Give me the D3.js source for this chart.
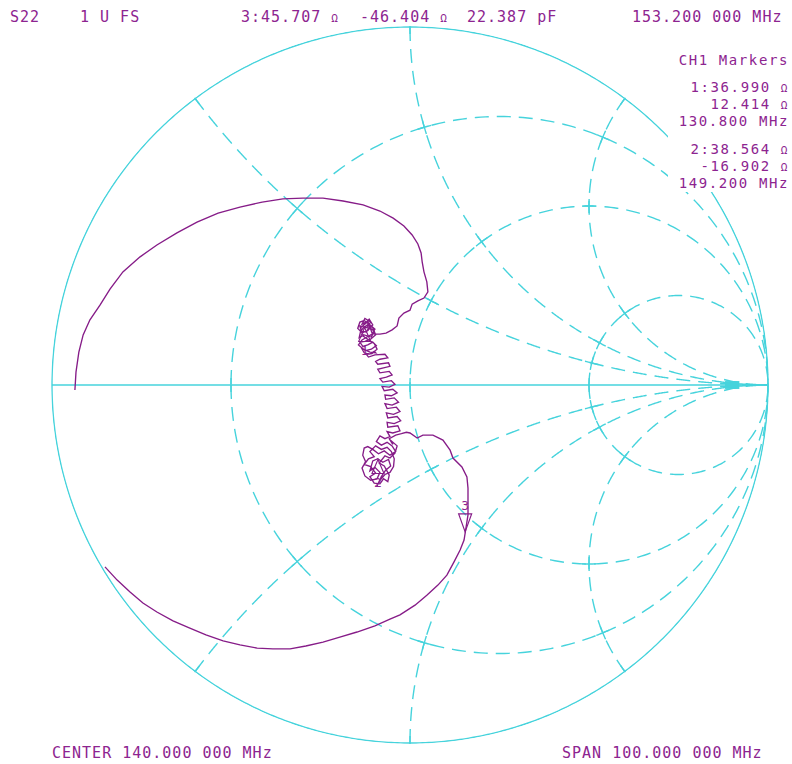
<!DOCTYPE html>
<html>
<head>
<meta charset="utf-8">
<script src="https://cdn.jsdelivr.net/npm/d3@7"></script>
<style>
  html, body { margin: 0; padding: 0; background: #ffffff; }
  svg { display: block; }
  text {
    font-family: "DejaVu Sans Mono", "Liberation Mono", monospace;
    font-size: 15px;
    fill: #8d2490;
    letter-spacing: 1px;
  }
  text.panel { font-size: 14px; letter-spacing: 1.6px; }
</style>
</head>
<body>
<svg id="chart" width="792" height="764"></svg>
<script>
// ---- Graticule (normalised impedance, Z0 = 50 Ω) ----
const resistanceCircles = [1 / 3, 1, 3];
const reactanceArcs = [0.5, 1, 2, -0.5, -1, -2];
const z0 = 50;

// ---- S22 sweep, reflection coefficient [re, im] ----
// 90 MHz up to the marker-1 region
const sweepLow = [
  [-0.936, -0.014], [-0.933, 0.036], [-0.925, 0.092], [-0.913, 0.140], [-0.894, 0.182],
  [-0.866, 0.223], [-0.838, 0.268], [-0.802, 0.316], [-0.754, 0.358], [-0.707, 0.391],
  [-0.651, 0.425], [-0.595, 0.455], [-0.536, 0.480], [-0.475, 0.497], [-0.413, 0.511],
  [-0.355, 0.520], [-0.299, 0.522], [-0.243, 0.522], [-0.187, 0.514], [-0.131, 0.503],
  [-0.084, 0.486], [-0.047, 0.466], [-0.017, 0.444], [0.006, 0.419], [0.022, 0.394],
  [0.031, 0.369], [0.034, 0.344], [0.039, 0.316], [0.047, 0.288], [0.050, 0.260],
  [0.039, 0.243], [0.022, 0.235], [0.006, 0.226], [0.000, 0.209], [-0.017, 0.201],
  [-0.031, 0.187], [-0.036, 0.165], [-0.050, 0.154], [-0.067, 0.145], [-0.084, 0.142],
  [-0.098, 0.142]
];
// noisy band near the match: marker-1 knot
const sweepKnot1 = [
  [-0.106, 0.145], [-0.118, 0.178], [-0.134, 0.170], [-0.126, 0.186], [-0.110, 0.176],
  [-0.120, 0.160], [-0.140, 0.165], [-0.136, 0.150], [-0.122, 0.148], [-0.114, 0.162],
  [-0.100, 0.150], [-0.108, 0.134], [-0.128, 0.140], [-0.142, 0.132], [-0.138, 0.150],
  [-0.130, 0.160], [-0.116, 0.170], [-0.104, 0.160], [-0.096, 0.140], [-0.110, 0.128],
  [-0.126, 0.122], [-0.140, 0.120], [-0.132, 0.108], [-0.118, 0.112], [-0.104, 0.120],
  [-0.094, 0.110], [-0.108, 0.100], [-0.124, 0.096], [-0.136, 0.104], [-0.128, 0.090],
  [-0.114, 0.086], [-0.100, 0.094], [-0.096, 0.090], [-0.112, 0.092], [-0.130, 0.100],
  [-0.144, 0.112], [-0.134, 0.126], [-0.120, 0.134], [-0.106, 0.142], [-0.098, 0.156],
  [-0.112, 0.168], [-0.128, 0.180], [-0.140, 0.176], [-0.146, 0.158], [-0.134, 0.146],
  [-0.118, 0.152], [-0.104, 0.168], [-0.114, 0.184], [-0.124, 0.172], [-0.138, 0.160],
  [-0.130, 0.136], [-0.116, 0.126], [-0.100, 0.116], [-0.092, 0.100], [-0.106, 0.088],
  [-0.122, 0.086], [-0.116, 0.078]
];
// noisy band: descent across the real axis
const sweepBand = [
  [-0.098, 0.084], [-0.070, 0.086], [-0.062, 0.076], [-0.084, 0.072], [-0.096, 0.066],
  [-0.090, 0.058], [-0.060, 0.062], [-0.056, 0.052], [-0.074, 0.048], [-0.090, 0.044],
  [-0.084, 0.034], [-0.058, 0.038], [-0.050, 0.028], [-0.066, 0.022], [-0.084, 0.018],
  [-0.076, 0.008], [-0.052, 0.012], [-0.042, 0.002], [-0.058, -0.006], [-0.078, -0.004],
  [-0.072, -0.016], [-0.048, -0.012], [-0.036, -0.022], [-0.052, -0.030], [-0.070, -0.028],
  [-0.068, -0.040], [-0.044, -0.036], [-0.032, -0.048], [-0.050, -0.056], [-0.070, -0.052],
  [-0.064, -0.066], [-0.038, -0.062], [-0.028, -0.074], [-0.046, -0.082], [-0.066, -0.078],
  [-0.062, -0.092], [-0.036, -0.088], [-0.026, -0.100], [-0.044, -0.108], [-0.064, -0.104],
  [-0.062, -0.118], [-0.034, -0.114], [-0.028, -0.128], [-0.048, -0.134], [-0.064, -0.130],
  [-0.056, -0.144]
];
// noisy band: marker-2 knot
const sweepKnot2 = [
  [-0.070, -0.150], [-0.084, -0.142], [-0.094, -0.158], [-0.080, -0.168], [-0.064, -0.160],
  [-0.050, -0.170], [-0.040, -0.186], [-0.056, -0.196], [-0.072, -0.184], [-0.088, -0.192],
  [-0.104, -0.180], [-0.118, -0.172], [-0.128, -0.176], [-0.132, -0.196], [-0.124, -0.214],
  [-0.134, -0.232], [-0.126, -0.254], [-0.110, -0.266], [-0.092, -0.262], [-0.084, -0.244],
  [-0.098, -0.230], [-0.112, -0.240], [-0.104, -0.212], [-0.090, -0.206], [-0.076, -0.216],
  [-0.060, -0.208], [-0.054, -0.226], [-0.068, -0.238], [-0.080, -0.256], [-0.092, -0.282],
  [-0.084, -0.266], [-0.070, -0.250], [-0.056, -0.244], [-0.046, -0.228], [-0.044, -0.206],
  [-0.052, -0.186], [-0.064, -0.174], [-0.080, -0.180], [-0.096, -0.170], [-0.112, -0.186],
  [-0.100, -0.200], [-0.116, -0.206], [-0.128, -0.222], [-0.110, -0.228], [-0.096, -0.246],
  [-0.112, -0.256], [-0.100, -0.274], [-0.084, -0.276], [-0.074, -0.262], [-0.062, -0.270],
  [-0.058, -0.252], [-0.072, -0.226], [-0.086, -0.218], [-0.070, -0.198], [-0.056, -0.204],
  [-0.042, -0.190], [-0.036, -0.170], [-0.050, -0.158], [-0.048, -0.166], [-0.058, -0.150],
  [-0.040, -0.140], [-0.024, -0.136], [-0.010, -0.132]
];
// marker 3 and on to 190 MHz
const sweepHigh = [
  [0.000, -0.134], [0.020, -0.148], [0.036, -0.140], [0.064, -0.140], [0.092, -0.154],
  [0.112, -0.182], [0.120, -0.204], [0.145, -0.229], [0.159, -0.257], [0.162, -0.288],
  [0.162, -0.321], [0.162, -0.363], [0.151, -0.433], [0.140, -0.461], [0.123, -0.494],
  [0.103, -0.531], [0.078, -0.559], [0.047, -0.587], [0.014, -0.615], [-0.028, -0.642],
  [-0.056, -0.654], [-0.098, -0.673], [-0.148, -0.690], [-0.196, -0.704], [-0.243, -0.718],
  [-0.291, -0.729], [-0.335, -0.737], [-0.383, -0.737], [-0.427, -0.735], [-0.475, -0.726],
  [-0.522, -0.715], [-0.570, -0.698], [-0.615, -0.679], [-0.662, -0.659], [-0.707, -0.634],
  [-0.746, -0.609], [-0.782, -0.578], [-0.818, -0.545], [-0.852, -0.508]
];

// ---- Markers (ohms) ----
const markerIds = [1, 2, 3];
const markerR = [36.990, 38.564, 45.707];
const markerX = [12.414, -16.902, -46.404];
const markerFreq = ["130.800 MHz", "149.200 MHz", "153.200 000 MHz"];
const activeMarker = 3;

// ---- Annotation text ----
const headerLeft = ["S22", "1 U FS"];
const headerActive = ["3:45.707 ", "-46.404 ", "22.387 pF"];
const footer = ["CENTER 140.000 000 MHz", "SPAN 100.000 000 MHz"];

// ---- Layout ----
const cx = 410, cy = 385, R = 358;
const gridColor = "#46d3dc";
const traceColor = "#861c88";

const svg = d3.select("#chart");
const sx = d3.scaleLinear().domain([-1, 1]).range([cx - R, cx + R]);
const sy = d3.scaleLinear().domain([-1, 1]).range([cy + R, cy - R]);
const line = d3.line().x(d => sx(d[0])).y(d => sy(d[1]));

function gammaOf(r, x) {
  // Γ = (z - 1) / (z + 1)
  const nr = r - 1, ni = x, dr = r + 1, di = x;
  const den = dr * dr + di * di;
  return [(nr * dr + ni * di) / den, (ni * dr - nr * di) / den];
}
function arcPts(c, rho, a0, a1, n) {
  return d3.range(n + 1).map(i => {
    const a = a0 + (a1 - a0) * i / n;
    return [c[0] + rho * Math.cos(a), c[1] + rho * Math.sin(a)];
  });
}

svg.append("defs").append("clipPath").attr("id", "unit")
  .append("circle").attr("cx", sx(0)).attr("cy", sy(0)).attr("r", sx(1) - sx(0) + 1);

const grid = svg.append("g").attr("clip-path", "url(#unit)")
  .attr("fill", "none").attr("stroke", gridColor).attr("stroke-width", 1.4);

// constant-resistance circles
resistanceCircles.forEach(r => {
  grid.append("path")
    .attr("d", line(arcPts([r / (r + 1), 0], 1 / (r + 1), Math.PI, 3 * Math.PI, 360)))
    .attr("stroke-dasharray", "14,8");
});
// constant-reactance arcs
reactanceArcs.forEach(x => {
  const ts = d3.range(0, 0.999, 0.0015);
  const pts = ts.map(t => gammaOf(t / (1 - t), x));
  pts.push([1, 0]);
  grid.append("path").attr("d", line(pts)).attr("stroke-dasharray", "14,8");
});

// real axis and outer circle
grid.append("path").attr("d", line([[-1, 0], [1, 0]]));
grid.append("path").attr("d", line(arcPts([0, 0], 1, 0, 2 * Math.PI, 720)));

// solid crosses at graticule intersections
const tickLen = 7;
const allR = [0].concat(resistanceCircles);
const allX = [0].concat(reactanceArcs);
allR.forEach(r => {
  allX.forEach(x => {
    if (r === 0 && x === 0) return;
    const g = gammaOf(r, x);
    if (r > 0) {
      const c = [r / (r + 1), 0], rho = 1 / (r + 1);
      const a = Math.atan2(g[1] - c[1], g[0] - c[0]);
      const d = tickLen / (rho * R);
      grid.append("path").attr("d", line(arcPts(c, rho, a - d, a + d, 8)));
    }
    if (x !== 0) {
      const c = [1, 1 / x], rho = 1 / Math.abs(x);
      const a = Math.atan2(g[1] - c[1], g[0] - c[0]);
      const d = tickLen / (rho * R);
      grid.append("path").attr("d", line(arcPts(c, rho, a - d, a + d, 8)));
    }
  });
});

// crowding of the arcs at the open-circuit end
grid.append("rect")
  .attr("x", sx(0.88)).attr("y", sy(0.011))
  .attr("width", sx(0.92) - sx(0.88)).attr("height", sy(-0.011) - sy(0.011))
  .attr("fill", gridColor).attr("stroke", "none");

// marker readout panel sits on a blank box
svg.append("rect").attr("x", 668).attr("y", 44).attr("width", 124).attr("height", 148)
  .attr("fill", "#ffffff");

// ---- Trace ----
const sweep = sweepLow.concat(sweepKnot1, sweepBand, sweepKnot2, sweepHigh);
svg.append("path").attr("d", line(sweep))
  .attr("fill", "none").attr("stroke", traceColor).attr("stroke-width", 1.35)
  .attr("stroke-linejoin", "miter");

// ---- Markers ----
const mk = svg.append("g");
markerIds.forEach((id, i) => {
  const g = gammaOf(markerR[i] / z0, markerX[i] / z0);
  const px = sx(g[0]), py = sy(g[1]);
  if (id === activeMarker) {
    mk.append("path")
      .attr("d", `M${px},${py} L${px - 6.5},${py - 18} L${px + 6.5},${py - 18} Z`)
      .attr("fill", "none").attr("stroke", traceColor).attr("stroke-width", 1.2);
    mk.append("text").attr("x", px).attr("y", py - 22).attr("text-anchor", "middle")
      .style("font-size", "13px").style("letter-spacing", "0px").text(id);
  } else {
    mk.append("path")
      .attr("d", `M${px},${py} L${px - 6},${py + 14} L${px + 6},${py + 14} Z`)
      .attr("fill", "none").attr("stroke", traceColor).attr("stroke-width", 1.1);
    mk.append("text").attr("x", px).attr("y", py + 28).attr("text-anchor", "middle")
      .style("font-size", "13px").style("letter-spacing", "0px").text(id);
  }
});

// ---- Annotations ----
function ohmText(sel, str) {
  sel.append("tspan").text(str);
  sel.append("tspan").style("font-size", "11px").text("Ω");
}
const headY = 22;
svg.append("text").attr("x", 10).attr("y", headY).text(headerLeft[0]);
svg.append("text").attr("x", 80).attr("y", headY).text(headerLeft[1]);
ohmText(svg.append("text").attr("x", 241).attr("y", headY), headerActive[0]);
ohmText(svg.append("text").attr("x", 360).attr("y", headY), headerActive[1]);
svg.append("text").attr("x", 467).attr("y", headY).text(headerActive[2]);
svg.append("text").attr("x", 632).attr("y", headY).text(markerFreq[2]);

const rx = 789;
svg.append("text").attr("class", "panel").attr("x", rx).attr("y", 65)
  .attr("text-anchor", "end").text("CH1 Markers");
const blockY = [92, 154];
[0, 1].forEach(i => {
  const y0 = blockY[i];
  ohmText(svg.append("text").attr("class", "panel").attr("x", rx).attr("y", y0).attr("text-anchor", "end"),
    `${markerIds[i]}:${markerR[i].toFixed(3)} `);
  ohmText(svg.append("text").attr("class", "panel").attr("x", rx).attr("y", y0 + 17).attr("text-anchor", "end"),
    `${markerX[i].toFixed(3)} `);
  svg.append("text").attr("class", "panel").attr("x", rx).attr("y", y0 + 34)
    .attr("text-anchor", "end").text(markerFreq[i]);
});

svg.append("text").attr("x", 52).attr("y", 758).text(footer[0]);
svg.append("text").attr("x", 562).attr("y", 758).text(footer[1]);
</script>
</body>
</html>
